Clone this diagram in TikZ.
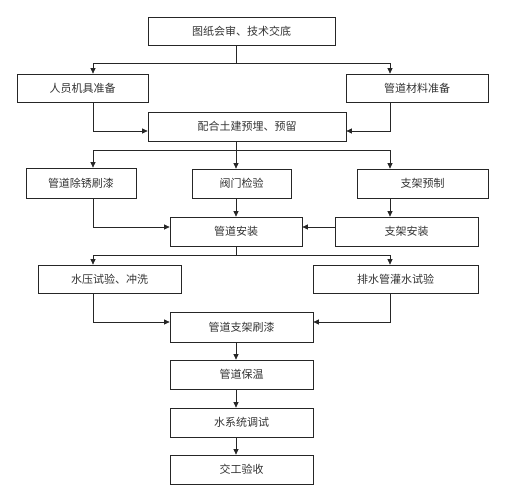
\documentclass[tikz,border=0pt]{standalone}
\usepackage{fontspec}
\newfontfamily\cjk{Noto Sans CJK SC}
\usetikzlibrary{arrows.meta,calc}
\begin{document}
\begin{tikzpicture}[x=1pt,y=-1pt,
  box/.style={draw=black!85,line width=0.75pt,rectangle,inner sep=0pt,
    font=\cjk\fontsize{11}{13}\selectfont,text=black!80},
  arr/.style={draw=black!85,line width=0.75pt,-{Triangle[length=5.5pt,width=5pt]}},
  ln/.style={draw=black!85,line width=0.75pt}]
\useasboundingbox (0,0) rectangle (512,488);
\coordinate (L) at (93,0);
\coordinate (R) at (390,0);
\coordinate (S) at (236,0);
\node[box,minimum width=187pt,minimum height=28pt] (a) at (241.5,31) {图纸会审、技术交底};
\node[box,minimum width=131pt,minimum height=28pt] (b1) at (82.5,88) {人员机具准备};
\node[box,minimum width=142pt,minimum height=28pt] (b2) at (417,88) {管道材料准备};
\node[box,minimum width=198pt,minimum height=29pt] (c) at (247,126.5) {配合土建预埋、预留};
\node[box,minimum width=110pt,minimum height=30pt] (d1) at (81,183) {管道除锈刷漆};
\node[box,minimum width=99pt,minimum height=29pt] (d2) at (241.5,183.5) {阀门检验};
\node[box,minimum width=131pt,minimum height=29pt] (d3) at (422.5,183.5) {支架预制};
\node[box,minimum width=132pt,minimum height=29pt] (e) at (236,231.5) {管道安装};
\node[box,minimum width=143pt,minimum height=29pt] (e2) at (406.5,231.5) {支架安装};
\node[box,minimum width=143pt,minimum height=28pt] (f1) at (109.5,279) {水压试验、冲洗};
\node[box,minimum width=165pt,minimum height=28pt] (f2) at (395.5,279) {排水管灌水试验};
\node[box,minimum width=143pt,minimum height=30pt] (g) at (241.5,327) {管道支架刷漆};
\node[box,minimum width=143pt,minimum height=29pt] (h) at (241.5,374.5) {管道保温};
\node[box,minimum width=143pt,minimum height=29pt] (i) at (241.5,422.5) {水系统调试};
\node[box,minimum width=143pt,minimum height=29pt] (j) at (241.5,469.5) {交工验收};
% top split
\draw[ln] (a.south -| S) -- ++(0,18) coordinate (t1);
\draw[arr] (t1) -| (b1.north -| L);
\draw[arr] (t1) -| (b2.north -| R);
\draw[arr] (b1.south -| L) |- ($(c.west)+(0,4.5)$);
\draw[arr] (b2.south -| R) |- ($(c.east)+(0,4.5)$);
% second split
\draw[ln] (c.south -| S) -- ++(0,9) coordinate (t2);
\draw[arr] (t2) -| (d1.north -| L);
\draw[arr] (t2) -| (d3.north -| R);
\draw[arr] (t2) -- (d2.north -| S);
\draw[arr] (d2.south -| S) -- (e.north -| S);
\draw[arr] (d1.south -| L) |- ($(e.west)+(0,-4.5)$);
\draw[arr] (d3.south -| R) -- (e2.north -| R);
\draw[arr] ($(e2.west)+(0,-4.5)$) -- ($(e.east)+(0,-4.5)$);
% third split
\draw[ln] (e.south -| S) -- ++(0,9) coordinate (t3);
\draw[arr] (t3) -| (f1.north -| L);
\draw[arr] (t3) -| (f2.north -| R);
\draw[arr] (f1.south -| L) |- ($(g.west)+(0,-5)$);
\draw[arr] (f2.south -| R) |- ($(g.east)+(0,-5)$);
% column
\draw[arr] (g.south -| S) -- (h.north -| S);
\draw[arr] (h.south -| S) -- (i.north -| S);
\draw[arr] (i.south -| S) -- (j.north -| S);
\end{tikzpicture}
\end{document}
